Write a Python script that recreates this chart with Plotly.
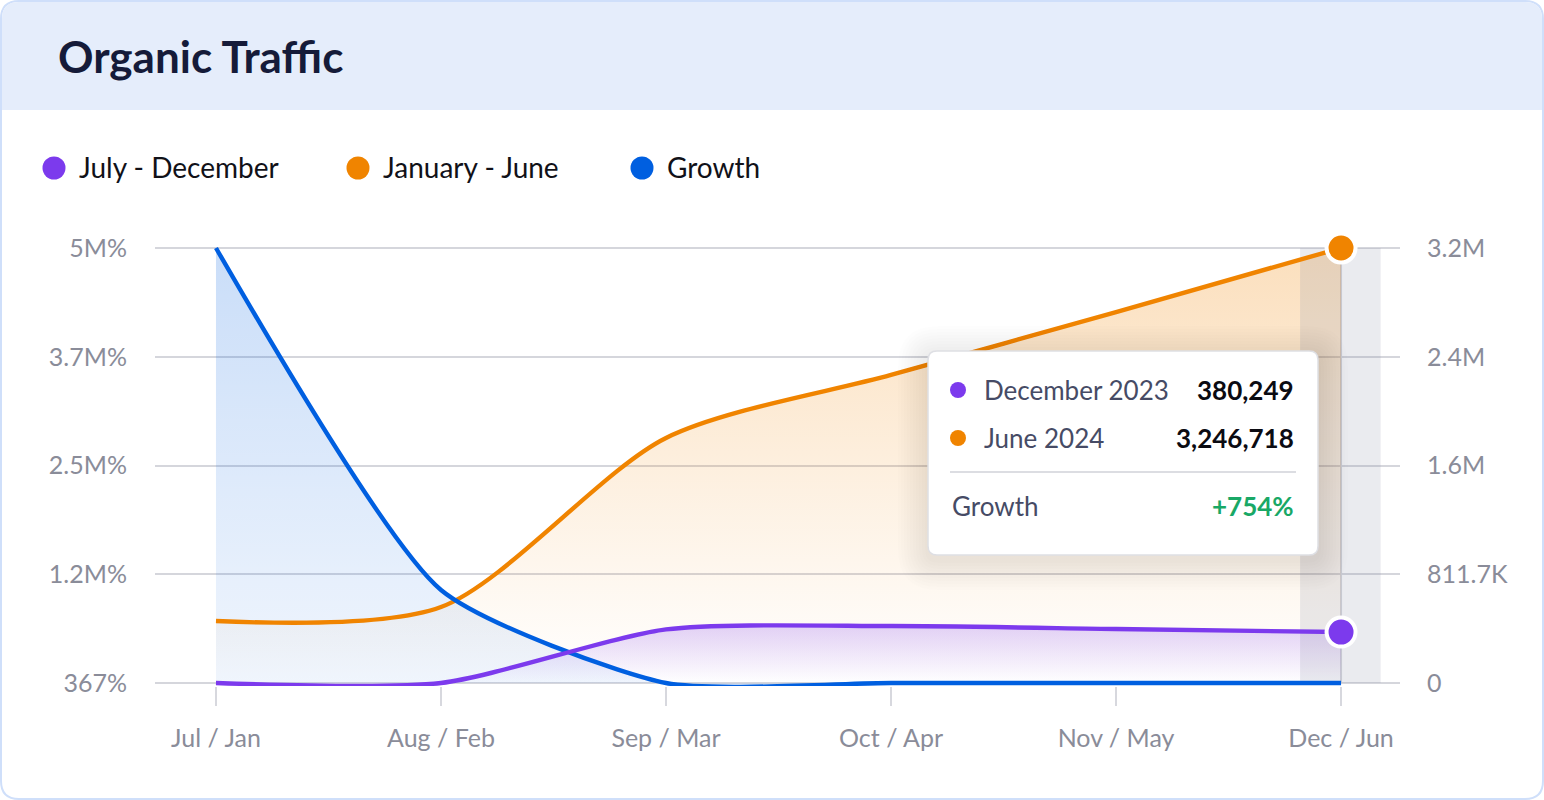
import plotly.graph_objects as go

# ---------------- data ----------------
categories = ["Jul / Jan", "Aug / Feb", "Sep / Mar", "Oct / Apr", "Nov / May", "Dec / Jun"]
jul_dec = [9, 53, 400000, 425000, 403000, 380249]            # July - December (2023)
jan_jun = [462700, 567000, 1829000, 2299000, 2769000, 3246718]  # January - June (2024)
growth_pct = [5000000, 1070000, 367, 441, 587, 754]             # Growth (%)

left_tickvals = [367, 1250000, 2500000, 3750000, 5000000]
left_ticktext = ["367%", "1.2M%", "2.5M%", "3.7M%", "5M%"]
right_tickvals = [0, 811679.5, 1623359, 2435038.5, 3246718]
right_ticktext = ["0", "811.7K", "1.6M", "2.4M", "3.2M"]

tooltip_labels = ["December 2023", "June 2024"]
title_text = "Organic Traffic"
legend_names = ["July - December", "January - June", "Growth"]

# ---------------- styles ----------------
PURPLE = "#7C3AED"
ORANGE = "#F08400"
BLUE = "#005FE0"
AXIS_TXT = "#8A8C99"
GRID = "#D5D6DC"
FONT = "Lato"
LW = 4.4

x = list(range(len(categories)))
hx = len(categories) - 1

# gridline extent in pixels (first/last tick) and a small padding so lines on the edge are not clipped
GT, GB = 248, 683
PAD = 3
L, R, T, B = 155, 1400, GT - PAD, GB + PAD
W, H = R - L, B - T


def padded(lo, hi):
    per_px = (hi - lo) / (GB - GT)
    return [lo - PAD * per_px, hi + PAD * per_px]


left_range = padded(left_tickvals[0], left_tickvals[-1])
right_range = padded(right_tickvals[0], right_tickvals[-1])


def px(v):
    return (v - L) / W


def py(v):
    return (B - v) / H


def rrect(x0, y0, x1, y1, r, top_only=False):
    if top_only:
        return (f"M {px(x0)},{py(y1)} L {px(x0)},{py(y0 + r)} Q {px(x0)},{py(y0)} {px(x0 + r)},{py(y0)} "
                f"L {px(x1 - r)},{py(y0)} Q {px(x1)},{py(y0)} {px(x1)},{py(y0 + r)} L {px(x1)},{py(y1)} Z")
    return (f"M {px(x0 + r)},{py(y0)} L {px(x1 - r)},{py(y0)} Q {px(x1)},{py(y0)} {px(x1)},{py(y0 + r)} "
            f"L {px(x1)},{py(y1 - r)} Q {px(x1)},{py(y1)} {px(x1 - r)},{py(y1)} "
            f"L {px(x0 + r)},{py(y1)} Q {px(x0)},{py(y1)} {px(x0)},{py(y1 - r)} "
            f"L {px(x0)},{py(y0 + r)} Q {px(x0)},{py(y0)} {px(x0 + r)},{py(y0)} Z")


fig = go.Figure()

# --- growth fill (left axis, bottom layer)
fig.add_trace(go.Scatter(
    x=x, y=growth_pct, yaxis="y", mode="lines",
    line=dict(width=0, shape="spline", smoothing=0.6, color=BLUE),
    fill="tozeroy",
    fillgradient=dict(type="vertical", start=left_tickvals[0], stop=max(growth_pct),
                      colorscale=[[0, "rgba(0,95,224,0.06)"], [1, "rgba(0,95,224,0.21)"]]),
    hoverinfo="skip"))

# --- orange & purple fills (right axis)
fig.add_trace(go.Scatter(
    x=x, y=jan_jun, yaxis="y2", mode="lines",
    line=dict(width=0, shape="spline", smoothing=0.8, color=ORANGE),
    fill="tozeroy",
    fillgradient=dict(type="vertical", start=0, stop=max(jan_jun),
                      colorscale=[[0, "rgba(240,132,0,0.0)"], [1, "rgba(240,132,0,0.26)"]]),
    hoverinfo="skip"))
fig.add_trace(go.Scatter(
    x=x, y=jul_dec, yaxis="y2", mode="lines",
    line=dict(width=0, shape="spline", smoothing=0.7, color=PURPLE),
    fill="tozeroy",
    fillgradient=dict(type="vertical", start=0, stop=max(jul_dec),
                      colorscale=[[0, "rgba(124,58,237,0.0)"], [1, "rgba(124,58,237,0.22)"]]),
    hoverinfo="skip"))

# --- hover highlight band at the last category
bx0, bx1 = hx - 0.182, hx + 0.176
fig.add_trace(go.Scatter(
    x=[bx0, bx0, bx1, bx1, bx0],
    y=[right_tickvals[0], right_tickvals[-1], right_tickvals[-1], right_tickvals[0], right_tickvals[0]],
    yaxis="y2", mode="lines", line=dict(width=0), fill="toself",
    fillcolor="rgba(140,145,165,0.18)", hoverinfo="skip"))

# --- orange line (right axis)
fig.add_trace(go.Scatter(
    x=x, y=jan_jun, yaxis="y2", mode="lines",
    line=dict(width=LW, shape="spline", smoothing=0.8, color=ORANGE), hoverinfo="skip"))

# --- blue line (hidden copy of left axis)
fig.add_trace(go.Scatter(
    x=x, y=growth_pct, yaxis="y3", mode="lines",
    line=dict(width=LW, shape="spline", smoothing=0.6, color=BLUE), hoverinfo="skip"))

# --- purple line and markers (hidden copy of right axis)
fig.add_trace(go.Scatter(
    x=x, y=jul_dec, yaxis="y4", mode="lines",
    line=dict(width=LW, shape="spline", smoothing=0.7, color=PURPLE), hoverinfo="skip"))
fig.add_trace(go.Scatter(
    x=[x[hx], x[hx]], y=[jan_jun[hx], jul_dec[hx]], yaxis="y4", mode="markers",
    marker=dict(size=29, color=[ORANGE, PURPLE], line=dict(color="white", width=4)),
    cliponaxis=False, hoverinfo="skip"))

shapes = []
annotations = []

# card & header
shapes.append(dict(type="path", xref="paper", yref="paper", layer="below",
                   path=rrect(1, 1, 1543, 799, 18), fillcolor="white",
                   line=dict(color="#CFDFFA", width=2)))
shapes.append(dict(type="path", xref="paper", yref="paper", layer="below",
                   path=rrect(2, 2, 1542, 110, 17, top_only=True), fillcolor="#E5EDFB",
                   line=dict(width=0)))

# crosshair line at hovered category
shapes.append(dict(type="line", xref="x", yref="paper", x0=hx, x1=hx, y0=py(GB), y1=py(GT),
                   layer="below", line=dict(color="#D5D6DC", width=2)))

# title
annotations.append(dict(text=f"<b>{title_text}</b>", xref="paper", yref="paper",
                        x=px(56), y=py(56), xanchor="left", yanchor="middle", showarrow=False,
                        font=dict(family=FONT, size=44, color="#151B39")))

# legend
leg_colors = [PURPLE, ORANGE, BLUE]
leg_x = [54, 358, 642]
for name, c, lx in zip(legend_names, leg_colors, leg_x):
    r = 11.5
    shapes.append(dict(type="circle", xref="paper", yref="paper",
                       x0=px(lx - r), x1=px(lx + r), y0=py(168 + r), y1=py(168 - r),
                       fillcolor=c, line=dict(width=0), layer="above"))
    annotations.append(dict(text=name, xref="paper", yref="paper", x=px(lx + 23), y=py(167),
                            xanchor="left", yanchor="middle", showarrow=False,
                            font=dict(family=FONT, size=28, color="#111118")))

# tooltip shadow + box
tx0, ty0, tx1, ty1 = 928, 351, 1318, 555
for i in range(10, 0, -1):
    g = i * 3
    shapes.append(dict(type="path", xref="paper", yref="paper", layer="above",
                       path=rrect(tx0 - g, ty0 - g + 5, tx1 + g, ty1 + g + 5, 10 + g),
                       fillcolor="rgba(60,55,50,0.009)", line=dict(width=0)))
shapes.append(dict(type="path", xref="paper", yref="paper", layer="above",
                   path=rrect(tx0, ty0, tx1, ty1, 9), fillcolor="white",
                   line=dict(color="#DEDFE4", width=1.5)))
shapes.append(dict(type="line", xref="paper", yref="paper", layer="above",
                   x0=px(950), x1=px(1296), y0=py(472), y1=py(472),
                   line=dict(color="#DCDDE2", width=2)))

tip_rows = [(PURPLE, tooltip_labels[0], f"{jul_dec[hx]:,}", 390),
            (ORANGE, tooltip_labels[1], f"{jan_jun[hx]:,}", 438)]
for c, lab, val, yy in tip_rows:
    shapes.append(dict(type="circle", xref="paper", yref="paper", layer="above",
                       x0=px(958 - 8), x1=px(958 + 8), y0=py(yy + 8), y1=py(yy - 8),
                       fillcolor=c, line=dict(width=0)))
    annotations.append(dict(text=lab, xref="paper", yref="paper", x=px(982), y=py(yy),
                            xanchor="left", yanchor="middle", showarrow=False,
                            font=dict(family=FONT, size=26, color="#464B65")))
    annotations.append(dict(text=f"<b>{val}</b>", xref="paper", yref="paper", x=px(1296), y=py(yy),
                            xanchor="right", yanchor="middle", showarrow=False,
                            font=dict(family=FONT, size=26, color="#0B0B12")))
annotations.append(dict(text="Growth", xref="paper", yref="paper", x=px(950), y=py(506),
                        xanchor="left", yanchor="middle", showarrow=False,
                        font=dict(family=FONT, size=26, color="#464B65")))
annotations.append(dict(text=f"<b>+{growth_pct[hx]}%</b>", xref="paper", yref="paper", x=px(1296), y=py(506),
                        xanchor="right", yanchor="middle", showarrow=False,
                        font=dict(family=FONT, size=26, color="#19A866")))

tickfont = dict(family=FONT, size=25, color=AXIS_TXT)
fig.update_layout(
    width=1544, height=800, autosize=False,
    margin=dict(l=L, r=1544 - R, t=T, b=800 - B, pad=0),
    paper_bgcolor="white", plot_bgcolor="rgba(0,0,0,0)",
    showlegend=False,
    xaxis=dict(range=[-0.271, 5.262], tickmode="array", tickvals=x, ticktext=categories,
               ticks="outside", ticklen=19, tickwidth=2, tickcolor="#D7D8DE",
               showgrid=False, zeroline=False, showline=False, tickfont=tickfont,
               ticklabelstandoff=11),
    yaxis=dict(range=left_range, tickmode="array", tickvals=left_tickvals, ticktext=left_ticktext,
               showgrid=True, gridcolor=GRID, gridwidth=2, zeroline=False, showline=False,
               tickfont=tickfont, ticklabelstandoff=27),
    yaxis2=dict(range=right_range, overlaying="y", side="right", tickmode="array",
                tickvals=right_tickvals, ticktext=right_ticktext, showgrid=False,
                zeroline=False, showline=False, tickfont=tickfont, ticklabelstandoff=26),
    yaxis3=dict(range=left_range, overlaying="y", visible=False),
    yaxis4=dict(range=right_range, overlaying="y", visible=False),
    shapes=shapes, annotations=annotations,
)

fig.write_html("out.html")
